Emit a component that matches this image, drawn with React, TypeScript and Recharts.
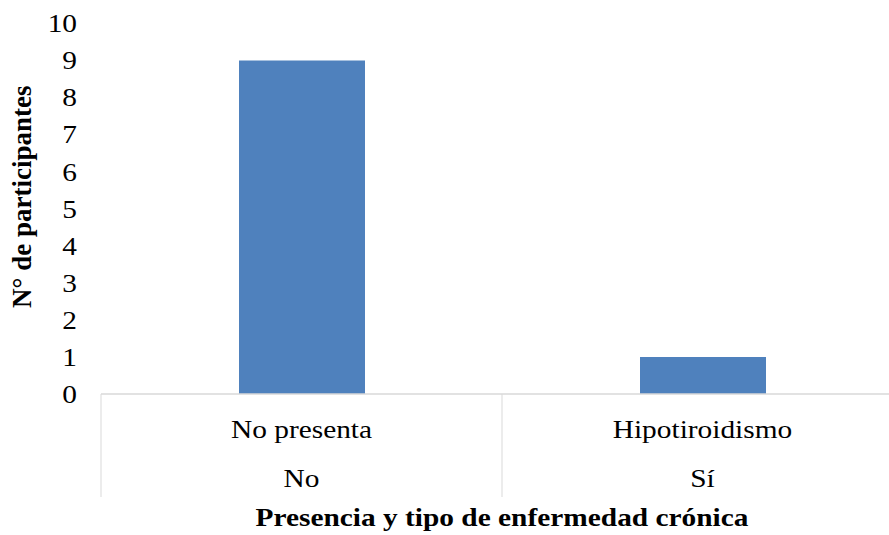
import { BarChart, Bar, XAxis, YAxis, Label } from "recharts";

// ─── Data ─────────────────────────────────────────────────────────────────────
const categories = ["No presenta", "Hipotiroidismo"];
const groups = ["No", "Sí"];
const participants = [9, 1];
const yTicks = [0, 1, 2, 3, 4, 5, 6, 7, 8, 9, 10];

const data = categories.map((category, i) => ({
  category,
  group: groups[i],
  value: participants[i],
}));

// ─── Style ────────────────────────────────────────────────────────────────────
const FONT = '"Liberation Serif", "Times New Roman", serif';
const STRETCH = 1.13; // the source picture is a bit wider than tall
const AXIS_GRAY = "#d9d9d9";
const BAR_BLUE = "#4f81bd";

function StretchedText({ x, y, children, anchor = "middle", size = 26, weight = 400 }: any) {
  return (
    <text
      transform={`translate(${x},${y}) scale(${STRETCH},1)`}
      textAnchor={anchor}
      fontFamily={FONT}
      fontSize={size}
      fontWeight={weight}
      fill="#000"
    >
      {children}
    </text>
  );
}

// ─── Ticks / labels ───────────────────────────────────────────────────────────
function YTick({ x, y, payload }: any) {
  return (
    <StretchedText x={x} y={y + 8.8} anchor="end">
      {payload.value}
    </StretchedText>
  );
}

function XTick({ x, y, payload }: any) {
  const row = data.find((d) => d.category === payload.value);
  const half = payload.offset ?? 0;
  return (
    <g>
      <line x1={x - half} x2={x - half} y1={y} y2={y + 103} stroke={AXIS_GRAY} strokeWidth={1} />
      <StretchedText x={x} y={y + 44}>
        {payload.value}
      </StretchedText>
      <StretchedText x={x} y={y + 93}>
        {row ? row.group : ""}
      </StretchedText>
    </g>
  );
}

function XTitle({ viewBox }: any) {
  return (
    <StretchedText x={viewBox.x + viewBox.width / 2} y={viewBox.y + 132} size={26} weight={700}>
      Presencia y tipo de enfermedad crónica
    </StretchedText>
  );
}

function YTitle({ viewBox }: any) {
  const cy = viewBox.y + viewBox.height / 2 - 12;
  return (
    <text
      transform={`translate(22,${cy}) rotate(-90)`}
      textAnchor="middle"
      dominantBaseline="central"
      fontFamily={FONT}
      fontSize={27}
      fontWeight={700}
      fill="#000"
    >
      N° de participantes
    </text>
  );
}

// ─── Component ────────────────────────────────────────────────────────────────
export default function App() {
  return (
    <div
      style={{
        position: "fixed",
        left: 0,
        top: 0,
        width: 889,
        height: 535,
        overflow: "hidden",
        background: "#fff",
      }}
    >
      <BarChart
        width={903}
        height={535}
        data={data}
        margin={{ top: 23.5, right: 0, bottom: 0, left: 0 }}
      >
        <XAxis
          dataKey="category"
          height={141}
          interval={0}
          tickLine={false}
          tickSize={0}
          tickMargin={0}
          axisLine={{ stroke: AXIS_GRAY, strokeWidth: 1.5 }}
          tick={<XTick />}
        >
          <Label content={<XTitle />} />
        </XAxis>
        <YAxis
          width={101}
          domain={[0, 10]}
          ticks={yTicks}
          interval={0}
          axisLine={false}
          tickLine={false}
          tickSize={0}
          tickMargin={24}
          tick={<YTick />}
        >
          <Label content={<YTitle />} />
        </YAxis>
        <Bar dataKey="value" fill={BAR_BLUE} barSize={126} isAnimationActive={false} />
      </BarChart>
    </div>
  );
}
